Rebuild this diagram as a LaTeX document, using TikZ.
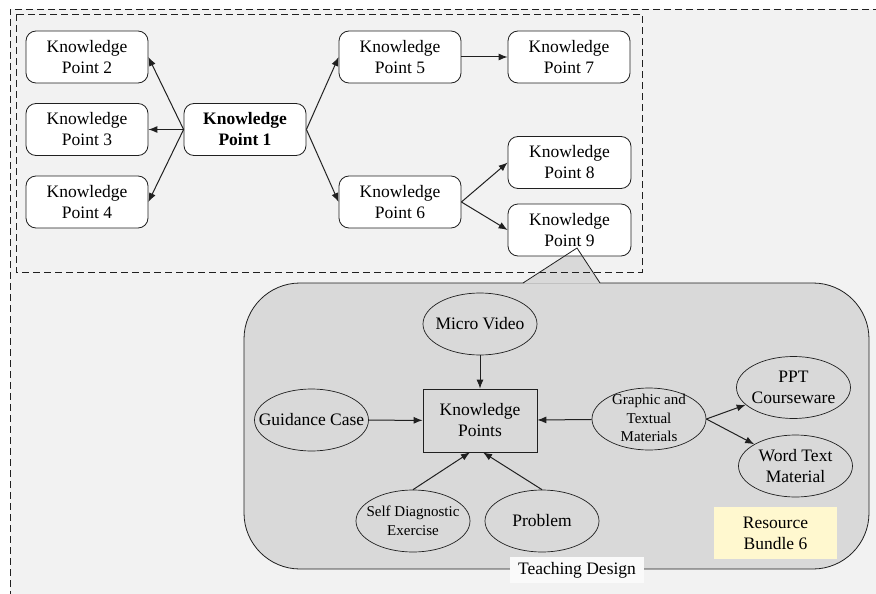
\documentclass[tikz,border=0pt]{standalone}
\usepackage{fontspec}
\setmainfont{Liberation Serif}
\usetikzlibrary{shapes.geometric,arrows.meta}
\definecolor{bggray}{HTML}{F2F2F2}
\definecolor{calloutgray}{HTML}{D9D9D9}
\definecolor{lightyellow}{HTML}{FFF8CF}
\definecolor{linegray}{HTML}{202020}
\tikzset{
  kpbox/.style={draw=linegray, rounded corners=10pt, fill=white, minimum width=122pt, minimum height=52pt,
    align=center, inner sep=0pt, line width=0.8pt, font=\fontsize{17.5}{21}\selectfont},
  ellnode/.style={ellipse, draw=linegray, fill=calloutgray, minimum width=114pt, minimum height=62pt,
    inner sep=0pt, line width=0.7pt},
  elltext/.style={align=center, inner sep=0pt, font=\fontsize{17.5}{21}\selectfont},
  smalltext/.style={align=center, inner sep=0pt, font=\fontsize{15}{18.5}\selectfont},
  arr/.style={-{Latex[length=9pt,width=7pt]}, line width=1pt, draw=linegray},
  dashbox/.style={draw=linegray, line width=0.8pt, dash pattern=on 7pt off 4pt},
}
\begin{document}
\begin{tikzpicture}[x=1pt,y=-1pt]
\useasboundingbox (0,0) rectangle (876,594);
\fill[white] (0,0) rectangle (876,594);
\fill[bggray] (10,9) rectangle (880,600);
\draw[dashbox] (880,9) -- (10,9) -- (10,600);
% callout
\filldraw[fill=calloutgray, draw=linegray, line width=0.8pt, rounded corners=56pt] (244,283) rectangle (869,569);
\fill[calloutgray] (523,283.7) -- (577,248) -- (600,283.7) -- cycle;
% inner dashed box
\draw[dashbox] (16,14) rectangle (642,272);
% knowledge point nodes
\node[kpbox] (kp2) at (87,57) {Knowledge\\Point 2};
\node[kpbox] (kp3) at (87,129.5) {Knowledge\\Point 3};
\node[kpbox] (kp4) at (87,202) {Knowledge\\Point 4};
\node[kpbox, font=\fontsize{17.5}{21}\selectfont\bfseries] (kp1) at (245,129.5) {Knowledge\\Point 1};
\node[kpbox] (kp5) at (400,57) {Knowledge\\Point 5};
\node[kpbox] (kp6) at (400,202) {Knowledge\\Point 6};
\node[kpbox] (kp7) at (569,57) {Knowledge\\Point 7};
\node[kpbox, minimum width=123pt] (kp8) at (569.5,162.5) {Knowledge\\Point 8};
\node[kpbox, minimum width=123pt] (kp9) at (569.5,230) {Knowledge\\Point 9};
\draw[arr] (kp1.west) -- (kp2.east);
\draw[arr] (kp1.west) -- (kp3.east);
\draw[arr] (kp1.west) -- (kp4.east);
\draw[arr] (kp1.east) -- (kp5.west);
\draw[arr] (kp1.east) -- (kp6.west);
\draw[arr] (kp5.east) -- (kp7.west);
\draw[arr] (kp6.east) -- (kp8.west);
\draw[arr] (kp6.east) -- (kp9.west);
% pointer edges
\coordinate (pl) at (523,283);
\coordinate (pt) at (577,248);
\coordinate (pr) at (600,283);
\draw[draw=linegray, line width=0.8pt] (pl) -- (pt) -- (pr);
% inside callout
\node[draw=linegray, fill=calloutgray, line width=0.7pt, minimum width=114pt, minimum height=63pt, inner sep=0pt,
  align=center, font=\fontsize{17.5}{21}\selectfont] (kps) at (480,420.5) {Knowledge\\Points};
\node[ellnode] (mv) at (480,324) {};
\node[elltext] at (mv) {Micro Video};
\node[ellnode] (gc) at (311.5,420) {};
\node[elltext] at (gc) {Guidance Case};
\node[ellnode] (gt) at (649,419) {};
\node[smalltext] at ([yshift=1pt]gt.center) {Graphic and\\Textual\\Materials};
\node[ellnode] (ppt) at (793.5,387.5) {};
\node[elltext] at (ppt) {PPT\\Courseware};
\node[ellnode] (word) at (795.5,466) {};
\node[elltext] at (word) {Word Text\\Material};
\node[ellnode] (sd) at (413,521) {};
\node[smalltext] at (sd) {Self Diagnostic\\Exercise};
\node[ellnode] (pb) at (542,521) {};
\node[elltext] at (pb) {Problem};
\node[fill=lightyellow, minimum width=123pt, minimum height=52pt, inner sep=0pt, align=center,
  font=\fontsize{17.5}{21}\selectfont] (rb) at (775.5,533) {Resource\\Bundle 6};
\node[fill=white!60!bggray, minimum width=134pt, minimum height=26pt, inner sep=0pt,
  font=\fontsize{17.5}{21}\selectfont] (td) at (577,570) {Teaching Design};
\draw[arr] (mv) -- (kps);
\draw[arr] (gc) -- (kps);
\draw[arr] (gt) -- (kps);
\draw[arr] (sd.north) -- ([xshift=-10pt]kps.south);
\draw[arr] (pb.north) -- ([xshift=3pt]kps.south);
\draw[arr] (gt.east) -- (ppt);
\draw[arr] (gt.east) -- (word);
\end{tikzpicture}
\end{document}
